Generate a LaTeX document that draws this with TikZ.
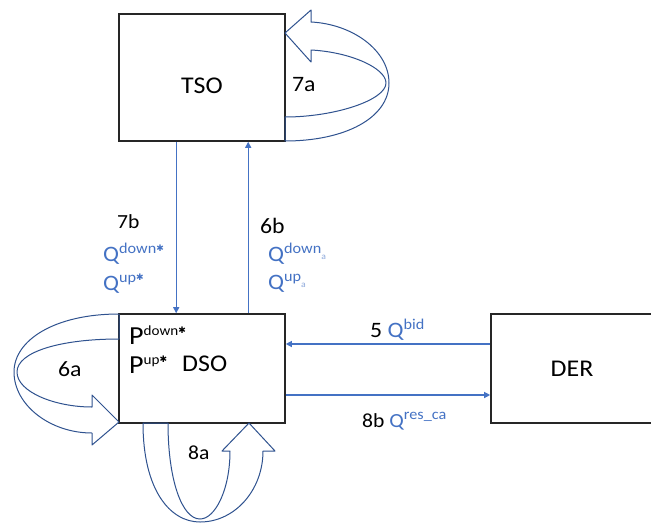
\documentclass[tikz,border=0pt]{standalone}
\usepackage{fontspec}
\setmainfont{Carlito}[FakeStretch=1.08]
\newfontfamily\symfont{DejaVu Sans}
\usetikzlibrary{arrows.meta,calc}
\definecolor{conn}{HTML}{4472C4}
\definecolor{blk}{HTML}{2F528F}
\definecolor{boxc}{HTML}{262626}
\definecolor{pale}{HTML}{8FAADC}
\newcommand\Sup[1]{\raisebox{8pt}{\fontsize{15}{15}\selectfont #1}}
\newcommand\Sub[1]{\raisebox{2pt}{\fontsize{9}{9}\selectfont\color{pale}#1}}
\newcommand\Star{\raisebox{1.5pt}{\symfont\fontsize{9}{9}\selectfont ✱}}
\begin{document}
\begin{tikzpicture}[x=1pt,y=-1pt,
 box/.style={draw=boxc, line width=1.6pt, fill=white, inner sep=0pt, font=\fontsize{24}{28}\selectfont},
 conn/.style={draw=conn, line width=1.2pt, -{Triangle[length=6pt,width=6pt]}},
 blockarrow/.style={draw=blk, line width=1pt, line join=round},
 lbl/.style={anchor=base west, inner sep=0pt, font=\fontsize{22}{26}\selectfont},
 qlbl/.style={lbl, text=conn},
 smalllbl/.style={lbl, font=\fontsize{20}{24}\selectfont},
 plbl/.style={lbl, font=\fontsize{26}{30}\selectfont},
]
\clip (0,0) rectangle (651,528);
\fill[white] (0,0) rectangle (651,528);

% boxes
\node[box, minimum width=166pt, minimum height=127pt, text height=31.6pt, text depth=0pt] (tso) at (202,77.5) {TSO};
\node[box, minimum width=166pt, minimum height=109pt] (dso) at (202,368.5) {};
\node[box, minimum width=162pt, minimum height=109pt, text height=16.4pt, text depth=0pt, xshift=-2pt] (der) at (574,368.5) {DER};

% block (curved) arrows
\draw[blockarrow] (285,141) .. controls (345,141) and (389,118) .. (389,83)
  .. controls (389,50) and (352,24) .. (311,22)
  -- (311,10) -- (285,33) -- (311,62) -- (311,50)
  .. controls (350,52) and (386,68) .. (386,83)
  .. controls (386,100) and (335,117) .. (285,117) -- cycle;

\draw[blockarrow] (119,314) .. controls (55,314) and (14,340) .. (14,372)
  .. controls (14,405) and (50,433) .. (92,433)
  -- (92,445) -- (119,422) -- (92,395) -- (92,407)
  .. controls (55,407) and (17,392) .. (17,372)
  .. controls (17,352) and (60,339) .. (119,339) -- cycle;

\draw[blockarrow] (143,423) .. controls (143,490) and (170,522) .. (200,522)
  .. controls (235,522) and (263,490) .. (263,451)
  -- (275,451) -- (249,423) -- (222,451) -- (230,451)
  .. controls (230,490) and (215,519) .. (200,519)
  .. controls (182,519) and (168,480) .. (168,423) -- cycle;

% connectors
\draw[conn] ($(tso.south west)+(58,0)$) -- ($(dso.north west)+(58,0)$);
\draw[conn] ($(dso.north west)+(130,0)$) -- ($(tso.south west)+(130,0)$);
\draw[conn] ($(der.west)+(0,-24.5)$) -- ($(dso.east)+(0,-24.5)$);
\draw[conn] ($(dso.east)+(0,26.5)$) -- ($(der.west)+(0,26.5)$);

% labels
\node[lbl] (l7a) at (292,91) {7a};
\node[smalllbl] (l7b) at (117,228) {7b};
\node[qlbl] (q7d) at (103,261) {Q\Sup{down\Star}};
\node[qlbl] (q7u) at (103,290) {Q\Sup{up\Star}};
\node[lbl] (l6b) at (260,233) {6b};
\node[qlbl] (q6d) at (268,261) {Q\Sup{down}\Sub{a}};
\node[qlbl] (q6u) at (268,289) {Q\Sup{up}\Sub{a}};
\node[plbl] (pd) at (129,344) {P\raisebox{9pt}{\fontsize{14}{14}\selectfont down\Star}};
\node[plbl] (pu) at (129,373) {P\raisebox{9pt}{\fontsize{14}{14}\selectfont up\Star}};
\node[lbl, font=\fontsize{24}{28}\selectfont] (dsot) at (182,371) {DSO};
\node[lbl] (l6a) at (58,376) {6a};
\node[smalllbl] (l8a) at (188,459) {8a};
\node[lbl] (l5) at (370,337) {5 \textcolor{conn}{Q\Sup{bid}}};
\node[smalllbl] (l8b) at (362,427) {8b \textcolor{conn}{Q\Sup{res\_ca}}};
\end{tikzpicture}
\end{document}
